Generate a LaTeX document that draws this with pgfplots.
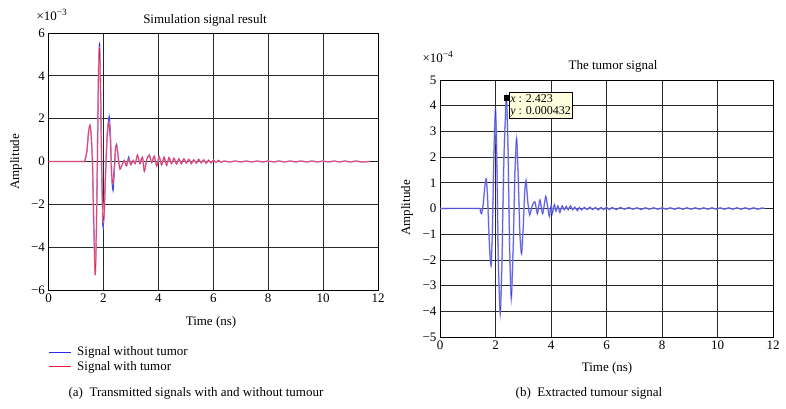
\documentclass[border=0pt]{standalone}
\usepackage{pgfplots}
\pgfplotsset{compat=1.18}
\usepackage{pgfplotstable}
\usepackage{fontspec}
\setmainfont{Liberation Serif}

\definecolor{sigblue}{RGB}{40,40,230}
\definecolor{sigred}{RGB}{228,30,60}
\definecolor{sigpink}{RGB}{238,150,190}
\definecolor{tumblue}{RGB}{140,140,240}
\definecolor{tumcore}{RGB}{60,60,215}
\definecolor{tipfill}{RGB}{255,255,222}
\definecolor{gridc}{RGB}{40,40,40}

% Left: signal without tumour (x1e-3)
\pgfplotstableread{
x y
0 0
1.20 0
1.32 0.02
1.40 0.5
1.46 1.4
1.51 1.7
1.55 1.3
1.60 0
1.65 -3.0
1.70 -5.3
1.74 -3.5
1.78 0
1.82 4.1
1.86 5.5
1.90 3.1
1.94 -0.6
1.98 -3.0
2.02 -2.6
2.08 -0.5
2.14 1.3
2.21 2.1
2.26 1.1
2.30 -0.7
2.35 -1.35
2.40 -0.4
2.44 0.6
2.48 0.8
2.53 0.3
2.60 -0.35
2.68 -0.15
2.76 0.05
2.84 -0.2
2.92 0.2
3.00 -0.15
3.08 0.05
3.16 -0.1
3.24 0.3
3.33 -0.1
3.42 0.2
3.49 -0.45
3.58 0.1
3.67 0.3
3.76 -0.05
3.85 0.25
3.94 -0.2
4.03 0.22
4.12 -0.15
4.21 0.2
4.30 -0.18
4.39 0.18
4.48 -0.1
4.57 0.15
4.66 -0.12
4.75 0.12
4.84 -0.1
4.93 0.12
5.02 -0.08
5.11 0.1
5.20 -0.1
5.29 0.08
5.38 -0.08
5.47 0.1
5.56 -0.06
5.65 0.08
5.74 -0.08
5.83 0.06
5.92 -0.06
6.01 0.06
6.10 -0.04
6.19 0.05
6.28 -0.03
6.40 0.02
6.60 -0.02
6.80 0.02
7.00 -0.02
7.20 0.02
7.40 -0.02
7.60 0.02
7.80 -0.02
8.00 0.02
8.20 -0.02
8.40 0.02
8.60 -0.02
8.80 0.02
9.00 -0.02
9.20 0.02
9.40 -0.02
9.60 0.02
9.80 -0.02
10.00 0.02
10.20 -0.02
10.40 0.02
10.60 -0.02
10.80 0.02
11.00 -0.02
11.20 0.02
11.40 -0.02
11.70 0
}\leftB

% Left: signal with tumour (x1e-3)
\pgfplotstableread{
x y
0 0
1.20 0
1.32 0.02
1.40 0.5
1.46 1.4
1.51 1.7
1.55 1.3
1.60 0
1.65 -3.0
1.70 -5.3
1.74 -3.5
1.78 0
1.82 4.0
1.86 5.3
1.90 3.0
1.94 -0.5
1.99 -2.7
2.03 -2.4
2.08 -0.5
2.14 1.2
2.20 1.8
2.25 1.0
2.30 -0.6
2.34 -1.0
2.39 -0.3
2.44 0.6
2.48 0.75
2.53 0.3
2.60 -0.35
2.68 -0.15
2.76 0.05
2.84 -0.2
2.92 0.1
3.00 -0.15
3.08 0.05
3.16 -0.1
3.24 0.3
3.33 -0.1
3.42 0.2
3.49 -0.45
3.58 0.1
3.67 0.3
3.76 -0.05
3.85 0.25
3.94 -0.2
4.03 0.22
4.12 -0.15
4.21 0.2
4.30 -0.18
4.39 0.18
4.48 -0.1
4.57 0.15
4.66 -0.12
4.75 0.12
4.84 -0.1
4.93 0.12
5.02 -0.08
5.11 0.1
5.20 -0.1
5.29 0.08
5.38 -0.08
5.47 0.1
5.56 -0.06
5.65 0.08
5.74 -0.08
5.83 0.06
5.92 -0.06
6.01 0.06
6.10 -0.04
6.19 0.05
6.28 -0.03
6.40 0.02
6.60 -0.02
6.80 0.02
7.00 -0.02
7.20 0.02
7.40 -0.02
7.60 0.02
7.80 -0.02
8.00 0.02
8.20 -0.02
8.40 0.02
8.60 -0.02
8.80 0.02
9.00 -0.02
9.20 0.02
9.40 -0.02
9.60 0.02
9.80 -0.02
10.00 0.02
10.20 -0.02
10.40 0.02
10.60 -0.02
10.80 0.02
11.00 -0.02
11.20 0.02
11.40 -0.02
11.70 0
}\leftR

% Right: extracted tumour signal (x1e-4)
\pgfplotstableread{
x y
0 0
1.40 0
1.45 -0.1
1.50 -0.2
1.56 0.2
1.62 0.9
1.67 1.16
1.72 0.3
1.78 -1.4
1.84 -2.23
1.89 -0.8
1.94 2.0
2.00 3.9
2.05 1.8
2.10 -2.0
2.17 -4.1
2.23 -2.2
2.30 1.8
2.39 4.32
2.45 2.4
2.51 -1.6
2.57 -3.5
2.64 -1.4
2.70 1.4
2.76 2.72
2.82 1.2
2.88 -1.0
2.94 -1.76
3.00 -0.7
3.05 0.6
3.10 1.09
3.16 0.3
3.23 -0.25
3.32 0.1
3.42 0.26
3.51 -0.2
3.60 0.33
3.70 -0.2
3.81 0.47
3.88 0.05
3.94 -0.3
4.00 0.1
4.05 -0.18
4.12 0.15
4.18 -0.1
4.25 0.1
4.32 -0.15
4.40 0.1
4.48 -0.05
4.55 0.08
4.62 -0.05
4.70 0.1
4.78 -0.05
4.86 0.05
4.95 -0.08
5.02 0.04
5.10 -0.05
5.20 0.04
5.30 -0.04
5.40 0.05
5.50 -0.04
5.60 0.04
5.70 -0.05
5.80 0.04
5.90 -0.04
6.00 0.05
6.10 -0.04
6.20 0.04
6.35 -0.04
6.50 0.04
6.65 -0.03
6.80 0.04
6.95 -0.03
7.10 0.03
7.25 -0.04
7.40 0.03
7.55 -0.03
7.70 0.03
7.85 -0.03
8.00 0.03
8.15 -0.03
8.30 0.03
8.45 -0.03
8.60 0.03
8.75 -0.03
8.90 0.03
9.05 -0.03
9.20 0.03
9.35 -0.03
9.50 0.03
9.65 -0.03
9.80 0.03
9.95 -0.03
10.10 0.03
10.25 -0.03
10.40 0.03
10.55 -0.03
10.70 0.03
10.85 -0.03
11.00 0.03
11.15 -0.03
11.30 0.03
11.45 -0.03
11.60 0.02
11.70 0
}\tumour

\newcommand{\fs}{\fontsize{13}{15}\selectfont}

\pgfplotsset{
  mystyle/.style={
    scale only axis,
    anchor=south west,
    xmin=0, xmax=12,
    xtick={0,2,...,12},
    grid=major,
    major grid style={gridc, line width=0.7pt},
    axis line style={black, line width=0.9pt},
    tick style={draw=none},
    tick label style={font=\fs},
    /pgf/number format/assume math mode=true,
    scaled ticks=false,
    clip=true,
  }
}

\begin{document}
\begin{tikzpicture}[x=1pt,y=1pt]
\useasboundingbox (0,0) rectangle (786,408);

% ---------- Left panel ----------
\begin{axis}[mystyle,
  at={(48.5pt,118pt)}, width=329.5pt, height=257pt,
  ymin=-6, ymax=6, ytick={-6,-4,...,6},
  yticklabels={−6,−4,−2,0,2,4,6},
  legend style={at={(0,-0.27)}, anchor=west, draw=none, fill=none,
    font=\fs, inner sep=0pt, row sep=1pt, column sep=4pt,
    nodes={inner sep=1.5pt}},
  legend cell align=left,
  legend image code/.code={\draw[#1, line width=1pt] (0pt,0pt) -- (22pt,0pt);},
]
\addplot[sigblue!60, line width=1.3pt, smooth, tension=0.35, forget plot] table[x=x,y=y] {\leftB};
\addplot[sigblue, line width=0.5pt, smooth, tension=0.35] table[x=x,y=y] {\leftB};
\addlegendentry{Signal without tumor}
\addplot[sigpink, line width=1.3pt, smooth, tension=0.35, forget plot] table[x=x,y=y] {\leftR};
\addplot[sigred, line width=0.5pt, smooth, tension=0.35] table[x=x,y=y] {\leftR};
\addlegendentry{Signal with tumor}
\end{axis}

% ---------- Right panel ----------
\begin{axis}[mystyle,
  at={(440pt,71pt)}, width=333pt, height=257pt,
  ymin=-5, ymax=5, ytick={-5,-4,...,5},
  yticklabels={−5,−4,−3,−2,−1,0,1,2,3,4,5},
]
\addplot[tumblue, line width=1.6pt, opacity=0.85, smooth, tension=0.35] table[x=x,y=y] {\tumour};
\addplot[tumcore, line width=0.45pt, smooth, tension=0.35] table[x=x,y=y] {\tumour};
\addplot[only marks, mark=square*, mark size=2.4pt, black] coordinates {(2.39,4.32)};
\node[anchor=north west, fill=tipfill, draw=black, line width=0.5pt,
  inner sep=1.5pt, align=left, font=\fontsize{12}{12.5}\selectfont]
  at (axis cs:2.47,4.52) {\textit{x} : 2.423\\\textit{y} : 0.000432};
\end{axis}

% ---------- Texts ----------
\node[font=\fs] at (205,388) {Simulation signal result};
\node[font=\fs, anchor=west] at (33,393) {×10\raisebox{0.75ex}{\fontsize{9.5}{10}\selectfont −3}};
\node[font=\fs, rotate=90] at (16,246) {Amplitude};
\node[font=\fs] at (211,86) {Time (ns)};
\node[font=\fs] at (196,15) {(a)\ \ Transmitted signals with and without tumour};

\node[font=\fs] at (613,342) {The tumor signal};
\node[font=\fs, anchor=west] at (419,351) {×10\raisebox{0.75ex}{\fontsize{9.5}{10}\selectfont −4}};
\node[font=\fs, rotate=90] at (407,200) {Amplitude};
\node[font=\fs] at (607,40) {Time (ns)};
\node[font=\fs] at (589,15) {(b)\ \ Extracted tumour signal};
\end{tikzpicture}
\end{document}
